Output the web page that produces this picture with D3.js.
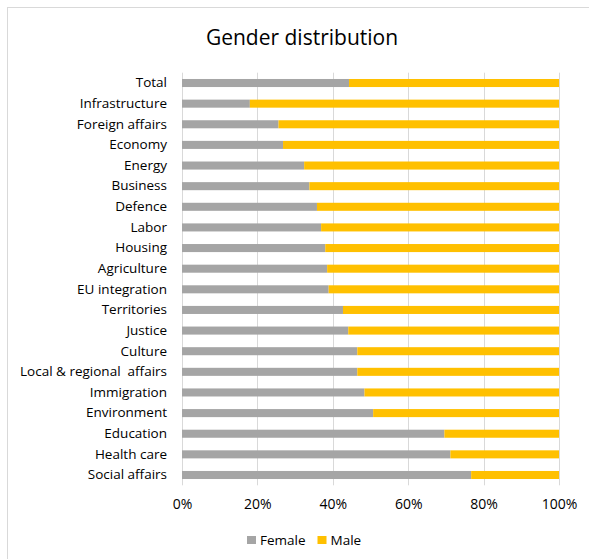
<!DOCTYPE html>
<html>
<head>
<meta charset="utf-8">
<script src="https://cdn.jsdelivr.net/npm/d3@7"></script>
<style>
  html, body { margin: 0; padding: 0; background: #fff; }
  svg { display: block; font-family: "Open Sans", "Noto Sans", sans-serif; }
  svg text { white-space: pre; }
</style>
</head>
<body>
<svg id="chart" width="589" height="559"></svg>
<script>
// Policy areas, top to bottom
const categories = [
  "Total", "Infrastructure", "Foreign affairs", "Economy", "Energy",
  "Business", "Defence", "Labor", "Housing", "Agriculture",
  "EU integration", "Territories", "Justice", "Culture",
  "Local & regional  affairs", "Immigration", "Environment",
  "Education", "Health care", "Social affairs"
];
// Share of women (%) per policy area
const female = [
  44.3, 18.0, 25.6, 26.8, 32.4,
  33.8, 35.8, 36.9, 38.0, 38.5,
  38.9, 42.7, 44.1, 46.5,
  46.5, 48.4, 50.7,
  69.6, 71.2, 76.7
];
// Share of men (%) per policy area
const male = [
  55.7, 82.0, 74.4, 73.2, 67.6,
  66.2, 64.2, 63.1, 62.0, 61.5,
  61.1, 57.3, 55.9, 53.5,
  53.5, 51.6, 49.3,
  30.4, 28.8, 23.3
];
const tickValues = [0, 20, 40, 60, 80, 100];
const seriesNames = ["Female", "Male"];
const seriesColors = ["#a5a5a5", "#ffc000"];

const svg = d3.select("#chart");

// chart frame
svg.append("rect")
  .attr("x", 7.5).attr("y", 7.5)
  .attr("width", 600).attr("height", 600)
  .attr("fill", "#fff")
  .attr("stroke", "#d9d9d9");

svg.append("text")
  .attr("x", 302).attr("y", 45)
  .attr("text-anchor", "middle")
  .attr("font-size", 21)
  .attr("fill", "#000")
  .text("Gender distribution");

const plotLeft = 182, plotRight = 559, plotTop = 72.7, plotBottom = 485.3;

const x = d3.scaleLinear().domain([0, 100]).range([plotLeft, plotRight]);
const y = d3.scaleBand().domain(categories).range([plotTop, plotBottom]).paddingInner(0.61).paddingOuter(0.305);

// vertical gridlines
svg.append("g")
  .selectAll("line")
  .data(tickValues)
  .join("line")
  .attr("x1", d => Math.round(x(d)) + 0.5)
  .attr("x2", d => Math.round(x(d)) + 0.5)
  .attr("y1", plotTop).attr("y2", plotBottom)
  .attr("stroke", "#d9d9d9")
  .attr("stroke-width", 1);

// stacked bars
const rows = categories.map((c, i) => ({ cat: c, f: female[i], m: male[i] }));
const stack = d3.stack().keys(["f", "m"])(rows);

svg.append("g")
  .selectAll("g")
  .data(stack)
  .join("g")
  .attr("fill", (d, i) => seriesColors[i])
  .selectAll("rect")
  .data(d => d)
  .join("rect")
  .attr("x", d => x(d[0]))
  .attr("y", d => y(d.data.cat))
  .attr("width", d => x(d[1]) - x(d[0]))
  .attr("height", y.bandwidth());

// category axis
const yAxis = svg.append("g")
  .attr("transform", `translate(${plotLeft},0)`)
  .call(d3.axisLeft(y).tickSize(0).tickPadding(15));
yAxis.select(".domain").remove();
yAxis.selectAll("text")
  .attr("font-size", 13.5)
  .attr("font-family", "\"Open Sans\", sans-serif")
  .attr("fill", "#000");

// percentage axis
const xAxis = svg.append("g")
  .attr("transform", `translate(0,${plotBottom})`)
  .call(d3.axisBottom(x).tickValues(tickValues).tickSize(0).tickPadding(14).tickFormat(d => d + "%"));
xAxis.select(".domain").remove();
xAxis.selectAll("text")
  .attr("font-size", 14)
  .attr("font-family", "\"Open Sans\", sans-serif")
  .attr("fill", "#000");

// legend
const legend = svg.append("g").attr("transform", "translate(247,540)");
const legendX = [0, 70.5];
seriesNames.forEach((name, i) => {
  const g = legend.append("g").attr("transform", `translate(${legendX[i]},0)`);
  g.append("rect").attr("x", 0).attr("y", -4).attr("width", 9).attr("height", 8).attr("fill", seriesColors[i]);
  g.append("text").attr("x", 13).attr("y", 0).attr("dy", "0.35em")
    .attr("font-size", 13.5).attr("fill", "#000").text(name);
});
</script>
</body>
</html>
